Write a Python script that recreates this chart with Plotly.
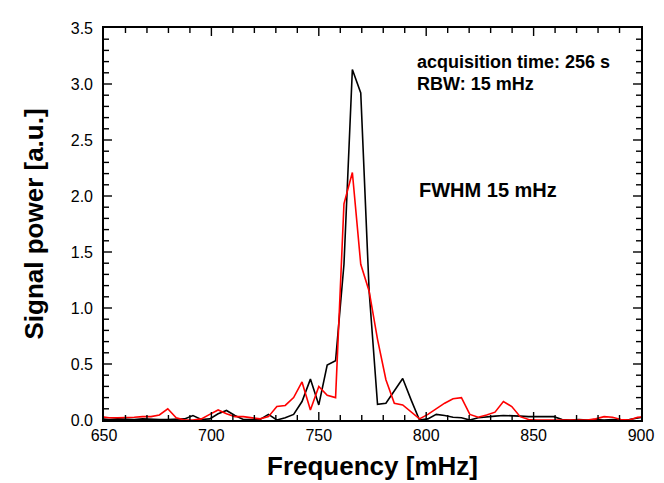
import numpy as np
import plotly.graph_objects as go

# frequency bins: k * (1/256 s) in mHz
bin_index = list(range(166, 232))
freq_mhz = [k * 1000.0 / 256.0 for k in bin_index]

black_power = [
    0.01, 0.005, 0.01, 0.005, 0.005, 0.01, 0.005, 0.005, 0.005, 0.01,   # 166-175
    0.01, 0.04, 0.005, 0.01, 0.055, 0.085, 0.04, 0.005, 0.005, 0.005,   # 176-185
    0.05, 0.0, 0.02, 0.05, 0.165, 0.365, 0.135, 0.49, 0.53, 1.39,       # 186-195
    3.13, 2.92, 1.15, 0.14, 0.15, 0.26, 0.37, 0.18, 0.0, 0.01,          # 196-205
    0.05, 0.04, 0.025, 0.02, 0.0, 0.02, 0.03, 0.035, 0.04, 0.04,        # 206-215
    0.035, 0.03, 0.03, 0.035, 0.03, 0.005, 0.0, 0.005, 0.0, 0.005,      # 216-225
    0.0, 0.005, 0.0, 0.005, 0.02, 0.03,                                  # 226-231
]

red_power = [
    0.03, 0.02, 0.02, 0.02, 0.025, 0.03, 0.03, 0.045, 0.1, 0.02,        # 166-175
    0.0, 0.0, 0.01, 0.05, 0.09, 0.055, 0.03, 0.03, 0.02, 0.01,          # 176-185
    0.03, 0.12, 0.13, 0.2, 0.34, 0.09, 0.3, 0.22, 0.2, 1.93,            # 186-195
    2.21, 1.39, 1.15, 0.72, 0.36, 0.15, 0.135, 0.07, 0.01, 0.05,        # 196-205
    0.1, 0.15, 0.19, 0.2, 0.05, 0.025, 0.045, 0.07, 0.165, 0.12,        # 206-215
    0.03, 0.005, 0.0, 0.0, 0.005, 0.0, 0.005, 0.0, 0.0, 0.01,           # 216-225
    0.03, 0.025, 0.005, 0.0, 0.025, 0.03,                                # 226-231
]

x_range = [650, 900]
y_range = [0, 3.5]
x_major_step = 50
x_minor_step = 10
y_major_step = 0.5
y_minor_step = 0.1

fig = go.Figure()
fig.add_trace(go.Scatter(x=freq_mhz, y=black_power, mode="lines",
                         line=dict(color="black", width=1.6), showlegend=False))
fig.add_trace(go.Scatter(x=freq_mhz, y=red_power, mode="lines",
                         line=dict(color="#ff0000", width=1.6), showlegend=False))

font_family = "Liberation Sans, Arial, sans-serif"

fig.add_annotation(x=795, y=3.2, xref="x", yref="y", text="<b>acquisition time: 256 s</b>",
                   showarrow=False, xanchor="left", yanchor="middle",
                   font=dict(size=18, color="black", family=font_family))
fig.add_annotation(x=795, y=3.0, xref="x", yref="y", text="<b>RBW: 15 mHz</b>",
                   showarrow=False, xanchor="left", yanchor="middle",
                   font=dict(size=18, color="black", family=font_family))
fig.add_annotation(x=795.5, y=2.05, xref="x", yref="y", text="<b>FWHM 15 mHz</b>",
                   showarrow=False, xanchor="left", yanchor="middle",
                   font=dict(size=20, color="black", family=font_family))

# inward tick marks on all four sides, placed through the axes' own scales
tick_line = dict(color="black", width=1.4)
n_x = int(round((x_range[1] - x_range[0]) / x_minor_step))
for i in range(1, n_x):
    xv = x_range[0] + i * x_minor_step
    is_major = abs((xv - x_range[0]) % x_major_step) < 1e-9
    ln = 8 if is_major else 5
    for anchor, sign in [(y_range[0], 1), (y_range[1], -1)]:
        fig.add_shape(type="line", xref="x", yref="y", ysizemode="pixel", yanchor=anchor,
                      x0=xv, x1=xv, y0=0, y1=sign * ln, line=tick_line, layer="above")

n_y = int(round((y_range[1] - y_range[0]) / y_minor_step))
for i in range(1, n_y):
    yv = y_range[0] + i * y_minor_step
    is_major = (i % int(round(y_major_step / y_minor_step))) == 0
    ln = 8 if is_major else 5
    for anchor, sign in [(x_range[0], 1), (x_range[1], -1)]:
        fig.add_shape(type="line", xref="x", yref="y", xsizemode="pixel", xanchor=anchor,
                      x0=0, x1=sign * ln, y0=yv, y1=yv, line=tick_line, layer="above")

fig.update_layout(
    width=664, height=483, margin=dict(l=96, r=31, t=16, b=71),
    paper_bgcolor="white", plot_bgcolor="white",
    font=dict(family=font_family, color="black"),
    xaxis=dict(range=x_range, tickmode="linear", tick0=x_range[0], dtick=x_major_step,
               showline=True, linecolor="black", linewidth=1.6, mirror=True,
               ticks="", showgrid=False, zeroline=False,
               tickfont=dict(size=16, color="black", family=font_family),
               title=dict(text="<b>Frequency [mHz]</b>", standoff=14,
                          font=dict(size=26, color="black", family=font_family))),
    yaxis=dict(range=y_range, tickmode="linear", tick0=y_range[0], dtick=y_major_step,
               tickformat=".1f",
               showline=True, linecolor="black", linewidth=1.6, mirror=True,
               ticks="", ticklabelstandoff=6, showgrid=False, zeroline=False,
               tickfont=dict(size=16, color="black", family=font_family),
               title=dict(text="<b>Signal power [a.u.]</b>", standoff=20,
                          font=dict(size=26, color="black", family=font_family))),
)

fig.write_html("out.html")
